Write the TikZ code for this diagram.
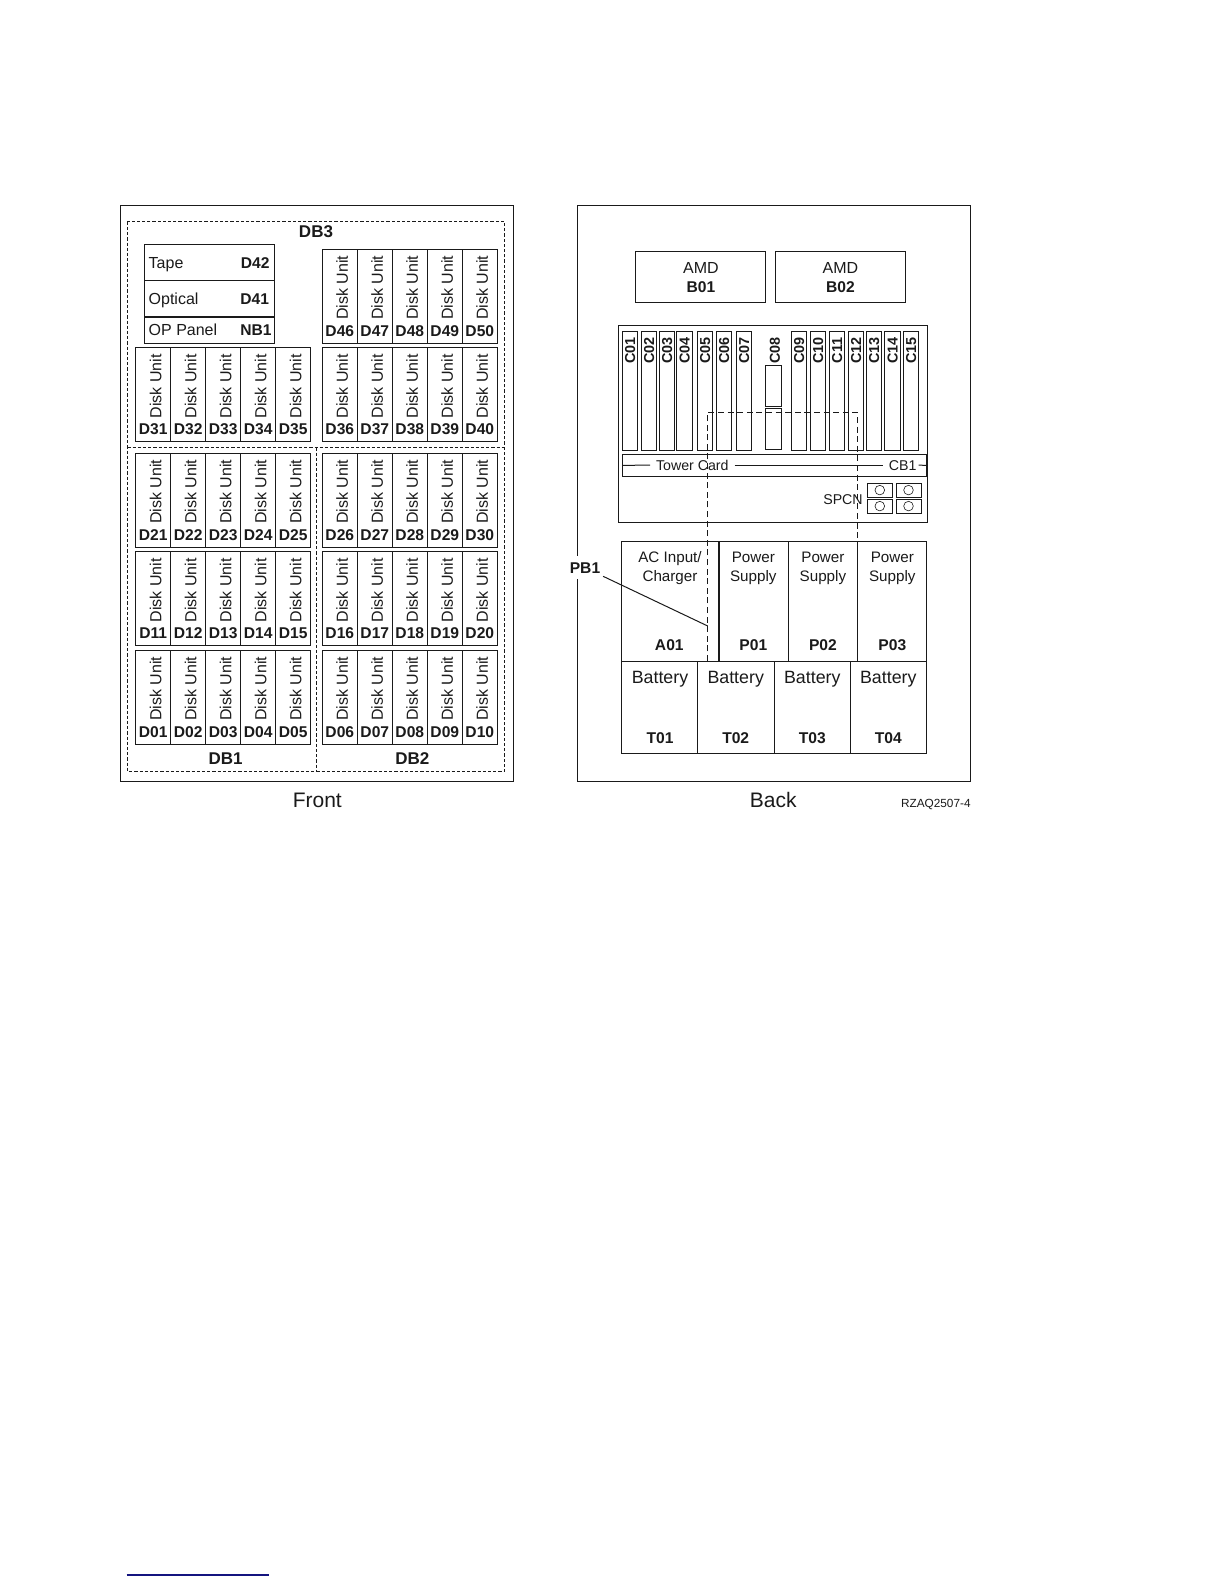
\documentclass[tikz,border=0pt]{standalone}
\usepackage{xcolor}
\usepackage{fontspec}
\setmainfont{Liberation Sans}
\usetikzlibrary{calc}

\definecolor{inkgray}{HTML}{1A1A1A}
\definecolor{rulenavy}{HTML}{14147F}

\tikzset{
	box/.style={draw=inkgray,line width=0.5pt},
	heavy/.style={draw=inkgray,line width=0.9pt},
	finedash/.style={draw=inkgray,line width=0.5pt,dash pattern=on 1.6pt off 1pt},
	widedash/.style={draw=inkgray,line width=0.5pt,dash pattern=on 3pt off 1.8pt},
	txt/.style={inner sep=0pt,text=inkgray,text depth=0pt,text height=5.6pt,font=\fontsize{8}{9}\selectfont},
	lbl/.style={txt,font=\fontsize{7.8}{9}\selectfont\bfseries},
	supply/.style={txt,font=\fontsize{7.6}{9}\selectfont},
	batt/.style={txt,text height=6.4pt,font=\fontsize{8.9}{10}\selectfont},
	slot/.style={lbl,rotate=90,text height=5pt,font=\fontsize{7.2}{8}\selectfont\bfseries},
	dbname/.style={lbl,text height=6pt,font=\fontsize{8.5}{10}\selectfont\bfseries},
	view/.style={txt,text height=7.6pt,font=\fontsize{10.5}{12}\selectfont},
}

% one row of five disk units, x and y are the top left corner
\newcommand{\diskrow}[3]{
	\foreach \n [count=\i from 0] in {#3}{
		\draw[box] ({#1+35*\i},#2) rectangle ++(35,94);
		\node[txt,rotate=90] (unit\n) at ({#1+35*\i+20},{#2+38.6}) {Disk Unit};
		\node[lbl] (label\n) at ({#1+35*\i+17.5},{#2+81.5}) {D\n};
	}
}

\begin{document}
\begin{tikzpicture}[x=0.5pt,y=-0.5pt]
	\useasboundingbox (0,0) rectangle (1224,1584);
	
	% front view
	\draw[box] (120.3,205.3) rectangle (513,781.3);
	\draw[finedash] (127.3,221.7) rectangle (504.7,771);
	\draw[finedash] (127.3,447.3)--(504.7,447.3);
	\draw[finedash] (316.7,447.3)--(316.7,771);
	
	\node[dbname] (db3) at (316,231.7) {DB3};
	\node[dbname] (db1) at (225.7,758) {DB1};
	\node[dbname] (db2) at (412.3,758) {DB2};
	
	\draw[box] (144.3,244.3) rectangle (274.7,343.3);
	\draw[box] (144.3,280.3)--(274.7,280.3);
	\draw[heavy] (144.3,317)--(274.7,317);
	\node[txt,anchor=west] (tape) at (148.3,262.7) {Tape};
	\node[lbl,anchor=east] (d42) at (270,262.7) {D42};
	\node[txt,anchor=west] (optical) at (148.3,298.5) {Optical};
	\node[lbl,anchor=east] (d41) at (269.5,298.5) {D41};
	\node[txt,anchor=west] (oppanel) at (148.3,330) {OP Panel};
	\node[lbl,anchor=east] (nb1) at (272,330) {NB1};
	
	\diskrow{322.3}{249.3}{46,47,48,49,50}
	\diskrow{135.7}{347.5}{31,32,33,34,35}
	\diskrow{322.3}{347.5}{36,37,38,39,40}
	\diskrow{135.7}{453.3}{21,22,23,24,25}
	\diskrow{322.3}{453.3}{26,27,28,29,30}
	\diskrow{135.7}{551.8}{11,12,13,14,15}
	\diskrow{322.3}{551.8}{16,17,18,19,20}
	\diskrow{135.7}{650.3}{01,02,03,04,05}
	\diskrow{322.3}{650.3}{06,07,08,09,10}
	
	\node[view] (front) at (317.3,799.5) {Front};
	
	% back view
	\draw[box] (577.3,205.3) rectangle (970.7,781.3);
	
	\draw[box] (635.2,251.5) rectangle (765.5,302);
	\draw[box] (775.6,251.5) rectangle (905.9,302);
	\node[txt] (amd1) at (701,267.5) {AMD};
	\node[lbl,text height=5.7pt] (b01) at (701,286.3) {B01};
	\node[txt] (amd2) at (840.5,267.5) {AMD};
	\node[lbl,text height=5.7pt] (b02) at (840.5,286.3) {B02};
	
	% card cage
	\draw[box] (618.3,325.3) rectangle (927.3,522);
	\foreach \c/\xa/\xb in {01/622.3/637.7,02/641.3/656.7,03/659.3/674.7,04/676.3/692.7,
		05/697.3/712.7,06/716.3/731.7,07/736.3/751.7,09/791.3/806.7,10/810.3/825.7,
		11/829.3/844.7,12/848.3/863.7,13/866.3/881.7,14/884.3/900.7,15/903.3/918.7}{
		\draw[box] (\xa,331.3) rectangle (\xb,450.3);
		\node[slot] (c\c) at ({(\xa+\xb)/2},350.5) {C\c};
	}
	\node[slot] (c08) at (774.8,350.5) {C08};
	\draw[box] (765.3,365.3) rectangle (781.7,406.3);
	\draw[box] (765.3,408.3) rectangle (781.7,449.3);
	
	\draw[box] (622.3,454.3) rectangle (926.7,476.3);
	\draw[heavy] (926.7,454.3)--(926.7,476.3);
	\coordinate (cbleft) at (622.3,465.3);
	\coordinate (cbright) at (926.7,465.3);
	\node[txt,outer sep=3pt,font=\fontsize{7.1}{9}\selectfont] (towercard) at (692.3,465) {Tower Card};
	\node[txt,outer sep=1pt,font=\fontsize{7.1}{9}\selectfont] (cb1) at (902.7,465) {CB1};
	\draw[box] (cbleft)--(towercard);
	\draw[box,shorten >=2pt] (towercard)--(cb1);
	\draw[box] (cb1)--(cbright);
	
	\node[txt,font=\fontsize{7.1}{9}\selectfont] (spcn) at (843,499) {SPCN};
	\foreach \px/\py [count=\k] in {867.3/483.3,896/483.3,867.3/499.3,896/499.3}{
		\draw[box] (\px,\py) rectangle ++(25,13.7);
		\draw[box,line width=0.3pt] ($(\px,\py)+(12.5,6.8)$) circle (2.4pt);
	}
	
	% power and batteries
	\draw[box] (621.3,541.3) rectangle (926.7,753.3);
	\draw[box] (621.3,661)--(926.7,661);
	\draw[heavy] (719.3,541.3)--(719.3,661);
	\draw[box] (788.3,541.3)--(788.3,661);
	\draw[box] (857.3,541.3)--(857.3,661);
	\draw[box] (697.3,661)--(697.3,753.3);
	\draw[box] (774.3,661)--(774.3,753.3);
	\draw[box] (850.3,661)--(850.3,753.3);
	
	\draw[widedash] (707.5,661)--(707.5,412.3)--(857.3,412.3)--(857.3,541.3);
	
	\node[supply] (acinput) at (670,556.7) {AC Input/};
	\node[supply] (charger) at (670,575.5) {Charger};
	\node[lbl] (a01) at (669.3,645) {A01};
	\foreach \p/\x in {01/753.3,02/822.9,03/892.3}{
		\node[supply] (power\p) at (\x,556.7) {Power};
		\node[supply] (supply\p) at (\x,575.5) {Supply};
		\node[lbl] (p\p) at (\x,645) {P\p};
	}
	\foreach \t/\x in {01/660,02/735.7,03/812.3,04/888.3}{
		\node[batt] (batt\t) at (\x,677.3) {Battery};
		\node[lbl] (t\t) at (\x,738.3) {T\t};
	}
	
	\node[lbl,fill=white,inner ysep=3pt,outer sep=1.5pt] (pb1) at (585,567.7) {PB1};
	\coordinate (pb1end) at (707.7,626);
	\draw[box] (pb1)--(pb1end);
	
	\node[view] (back) at (773.3,799.5) {Back};
	\node[txt,anchor=east,text height=4.3pt,font=\fontsize{5.9}{7}\selectfont] (partno) at (971,802.7) {RZAQ2507-4};
	
	\coordinate (ruleleft) at (126.7,1575);
	\coordinate (ruleright) at (269,1575);
	\draw[rulenavy,line width=0.6pt] (ruleleft)--(ruleright);
\end{tikzpicture}
\end{document}
